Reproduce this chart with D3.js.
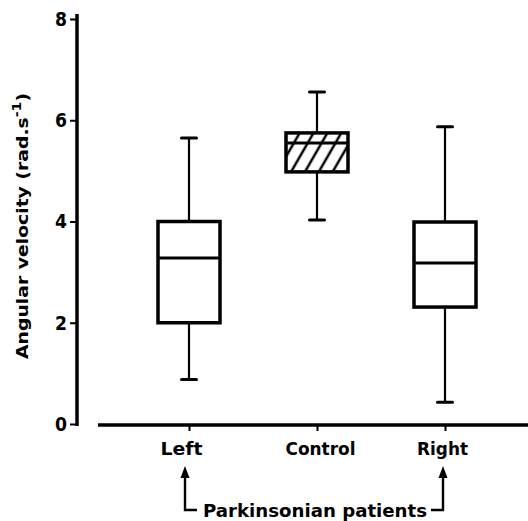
<!doctype html>
<html>
  <head>
    <style>
      body { margin: 0; background: #fff; }
      svg text { font-family: "DejaVu Sans", sans-serif; font-weight: bold; fill: #000; }
    </style>
  </head>
  <body>
    <svg id="chart" width="528" height="521"></svg>
    <script src="https://d3js.org/d3.v7.min.js"></script>
    <script>
      // data (rad.s^-1)
      const groups = ['Left', 'Control', 'Right'];
      const whiskerLow = [0.88, 4.03, 0.43];
      const boxLow = [2.0, 4.98, 2.31];
      const medians = [3.28, 5.55, 3.18];
      const boxHigh = [4.0, 5.75, 3.99];
      const whiskerHigh = [5.65, 6.56, 5.87];
      const hatched = [false, true, false];
      const yTicks = [0, 2, 4, 6, 8];

      const svg = d3.select('#chart');

      const y = d3.scaleLinear().domain([0, 8]).range([424, 19]);
      const x = d3.scalePoint().domain(groups).range([189, 445]);
      const boxW = 62;
      const capW = 15;

      // hatch pattern for the control box
      svg.append('defs').append('pattern')
        .attr('id', 'hatch')
        .attr('patternUnits', 'userSpaceOnUse')
        .attr('width', 12)
        .attr('height', 12)
        .attr('patternTransform', 'rotate(30)')
        .append('line')
        .attr('x1', 2).attr('y1', 0)
        .attr('x2', 2).attr('y2', 12)
        .attr('stroke', '#000')
        .attr('stroke-width', 2.5);

      // y axis
      const yAxis = svg.append('g')
        .attr('transform', 'translate(77,0)')
        .call(d3.axisLeft(y).tickValues(yTicks).tickSize(7).tickSizeOuter(0).tickPadding(3));
      yAxis.select('.domain').remove();
      yAxis.selectAll('.tick line').attr('stroke', '#000').attr('stroke-width', 2);
      yAxis.selectAll('.tick text').style('font-size', '20px').attr('textLength', 12).attr('lengthAdjust', 'spacingAndGlyphs');
      yAxis.append('line')
        .attr('x1', 0).attr('x2', 0)
        .attr('y1', 14).attr('y2', 426)
        .attr('stroke', '#000').attr('stroke-width', 3.5);

      const yLabel = svg.append('text')
        .attr('transform', 'translate(28,226) rotate(-90)')
        .attr('text-anchor', 'middle')
        .attr('textLength', 266)
        .attr('lengthAdjust', 'spacingAndGlyphs')
        .style('font-size', '16px');
      yLabel.append('tspan').text('Angular velocity (rad.s');
      yLabel.append('tspan').attr('dy', -7).style('font-size', '12px').text('-1');
      yLabel.append('tspan').attr('dy', 7).text(')');

      // x axis
      const labelWidth = { Left: 42, Control: 70, Right: 51 };
      const labelShift = { Left: -8, Control: 3, Right: -3 };
      const xAxis = svg.append('g')
        .attr('transform', 'translate(0,425)')
        .call(d3.axisBottom(x).tickSize(6).tickSizeOuter(0));
      xAxis.select('.domain').remove();
      xAxis.selectAll('.tick line').attr('stroke', '#000').attr('stroke-width', 2);
      xAxis.selectAll('.tick text')
        .style('font-size', '18px')
        .attr('y', 30).attr('dy', null)
        .attr('dx', d => labelShift[d])
        .attr('textLength', d => labelWidth[d])
        .attr('lengthAdjust', 'spacingAndGlyphs');
      xAxis.append('line')
        .attr('x1', 98).attr('x2', 528)
        .attr('y1', 0).attr('y2', 0)
        .attr('stroke', '#000').attr('stroke-width', 3.5);

      // boxes
      const g = svg.append('g');
      groups.forEach((name, i) => {
        const cx = x(name);
        g.append('line')
          .attr('x1', cx).attr('x2', cx)
          .attr('y1', y(whiskerHigh[i])).attr('y2', y(boxHigh[i]))
          .attr('stroke', '#000').attr('stroke-width', 2.2);
        g.append('line')
          .attr('x1', cx).attr('x2', cx)
          .attr('y1', y(boxLow[i])).attr('y2', y(whiskerLow[i]))
          .attr('stroke', '#000').attr('stroke-width', 2.2);
        [whiskerHigh[i], whiskerLow[i]].forEach(v => {
          g.append('line')
            .attr('x1', cx - capW / 2).attr('x2', cx + capW / 2)
            .attr('y1', y(v)).attr('y2', y(v))
            .attr('stroke', '#000').attr('stroke-width', 3)
            .attr('stroke-linecap', 'round');
        });
        g.append('rect')
          .attr('x', cx - boxW / 2)
          .attr('y', y(boxHigh[i]))
          .attr('width', boxW)
          .attr('height', y(boxLow[i]) - y(boxHigh[i]))
          .attr('fill', hatched[i] ? 'url(#hatch)' : '#fff')
          .attr('stroke', '#000').attr('stroke-width', 3.5);
        g.append('line')
          .attr('x1', cx - boxW / 2).attr('x2', cx + boxW / 2)
          .attr('y1', y(medians[i])).attr('y2', y(medians[i]))
          .attr('stroke', '#000').attr('stroke-width', 3);
      });

      // bracket for the patient groups
      const bracketY = 510;
      const arrowTop = 466;
      const leftX = x('Left') - 4;
      const rightX = x('Right') - 2;
      const bracket = svg.append('g').attr('stroke', '#000').attr('stroke-width', 2.4).attr('fill', 'none');
      bracket.append('path').attr('d', `M${leftX},${arrowTop + 8}V${bracketY}H${leftX + 12}`);
      bracket.append('path').attr('d', `M${rightX},${arrowTop + 8}V${bracketY}H${rightX - 12}`);
      [leftX, rightX].forEach(ax => {
        svg.append('path')
          .attr('d', `M${ax},${arrowTop}L${ax - 4.5},${arrowTop + 12}L${ax + 4.5},${arrowTop + 12}Z`)
          .attr('fill', '#000');
      });
      svg.append('text')
        .attr('x', 315).attr('y', 517)
        .attr('text-anchor', 'middle')
        .attr('textLength', 224)
        .attr('lengthAdjust', 'spacingAndGlyphs')
        .style('font-size', '18px')
        .text('Parkinsonian patients');
    </script>
  </body>
</html>
